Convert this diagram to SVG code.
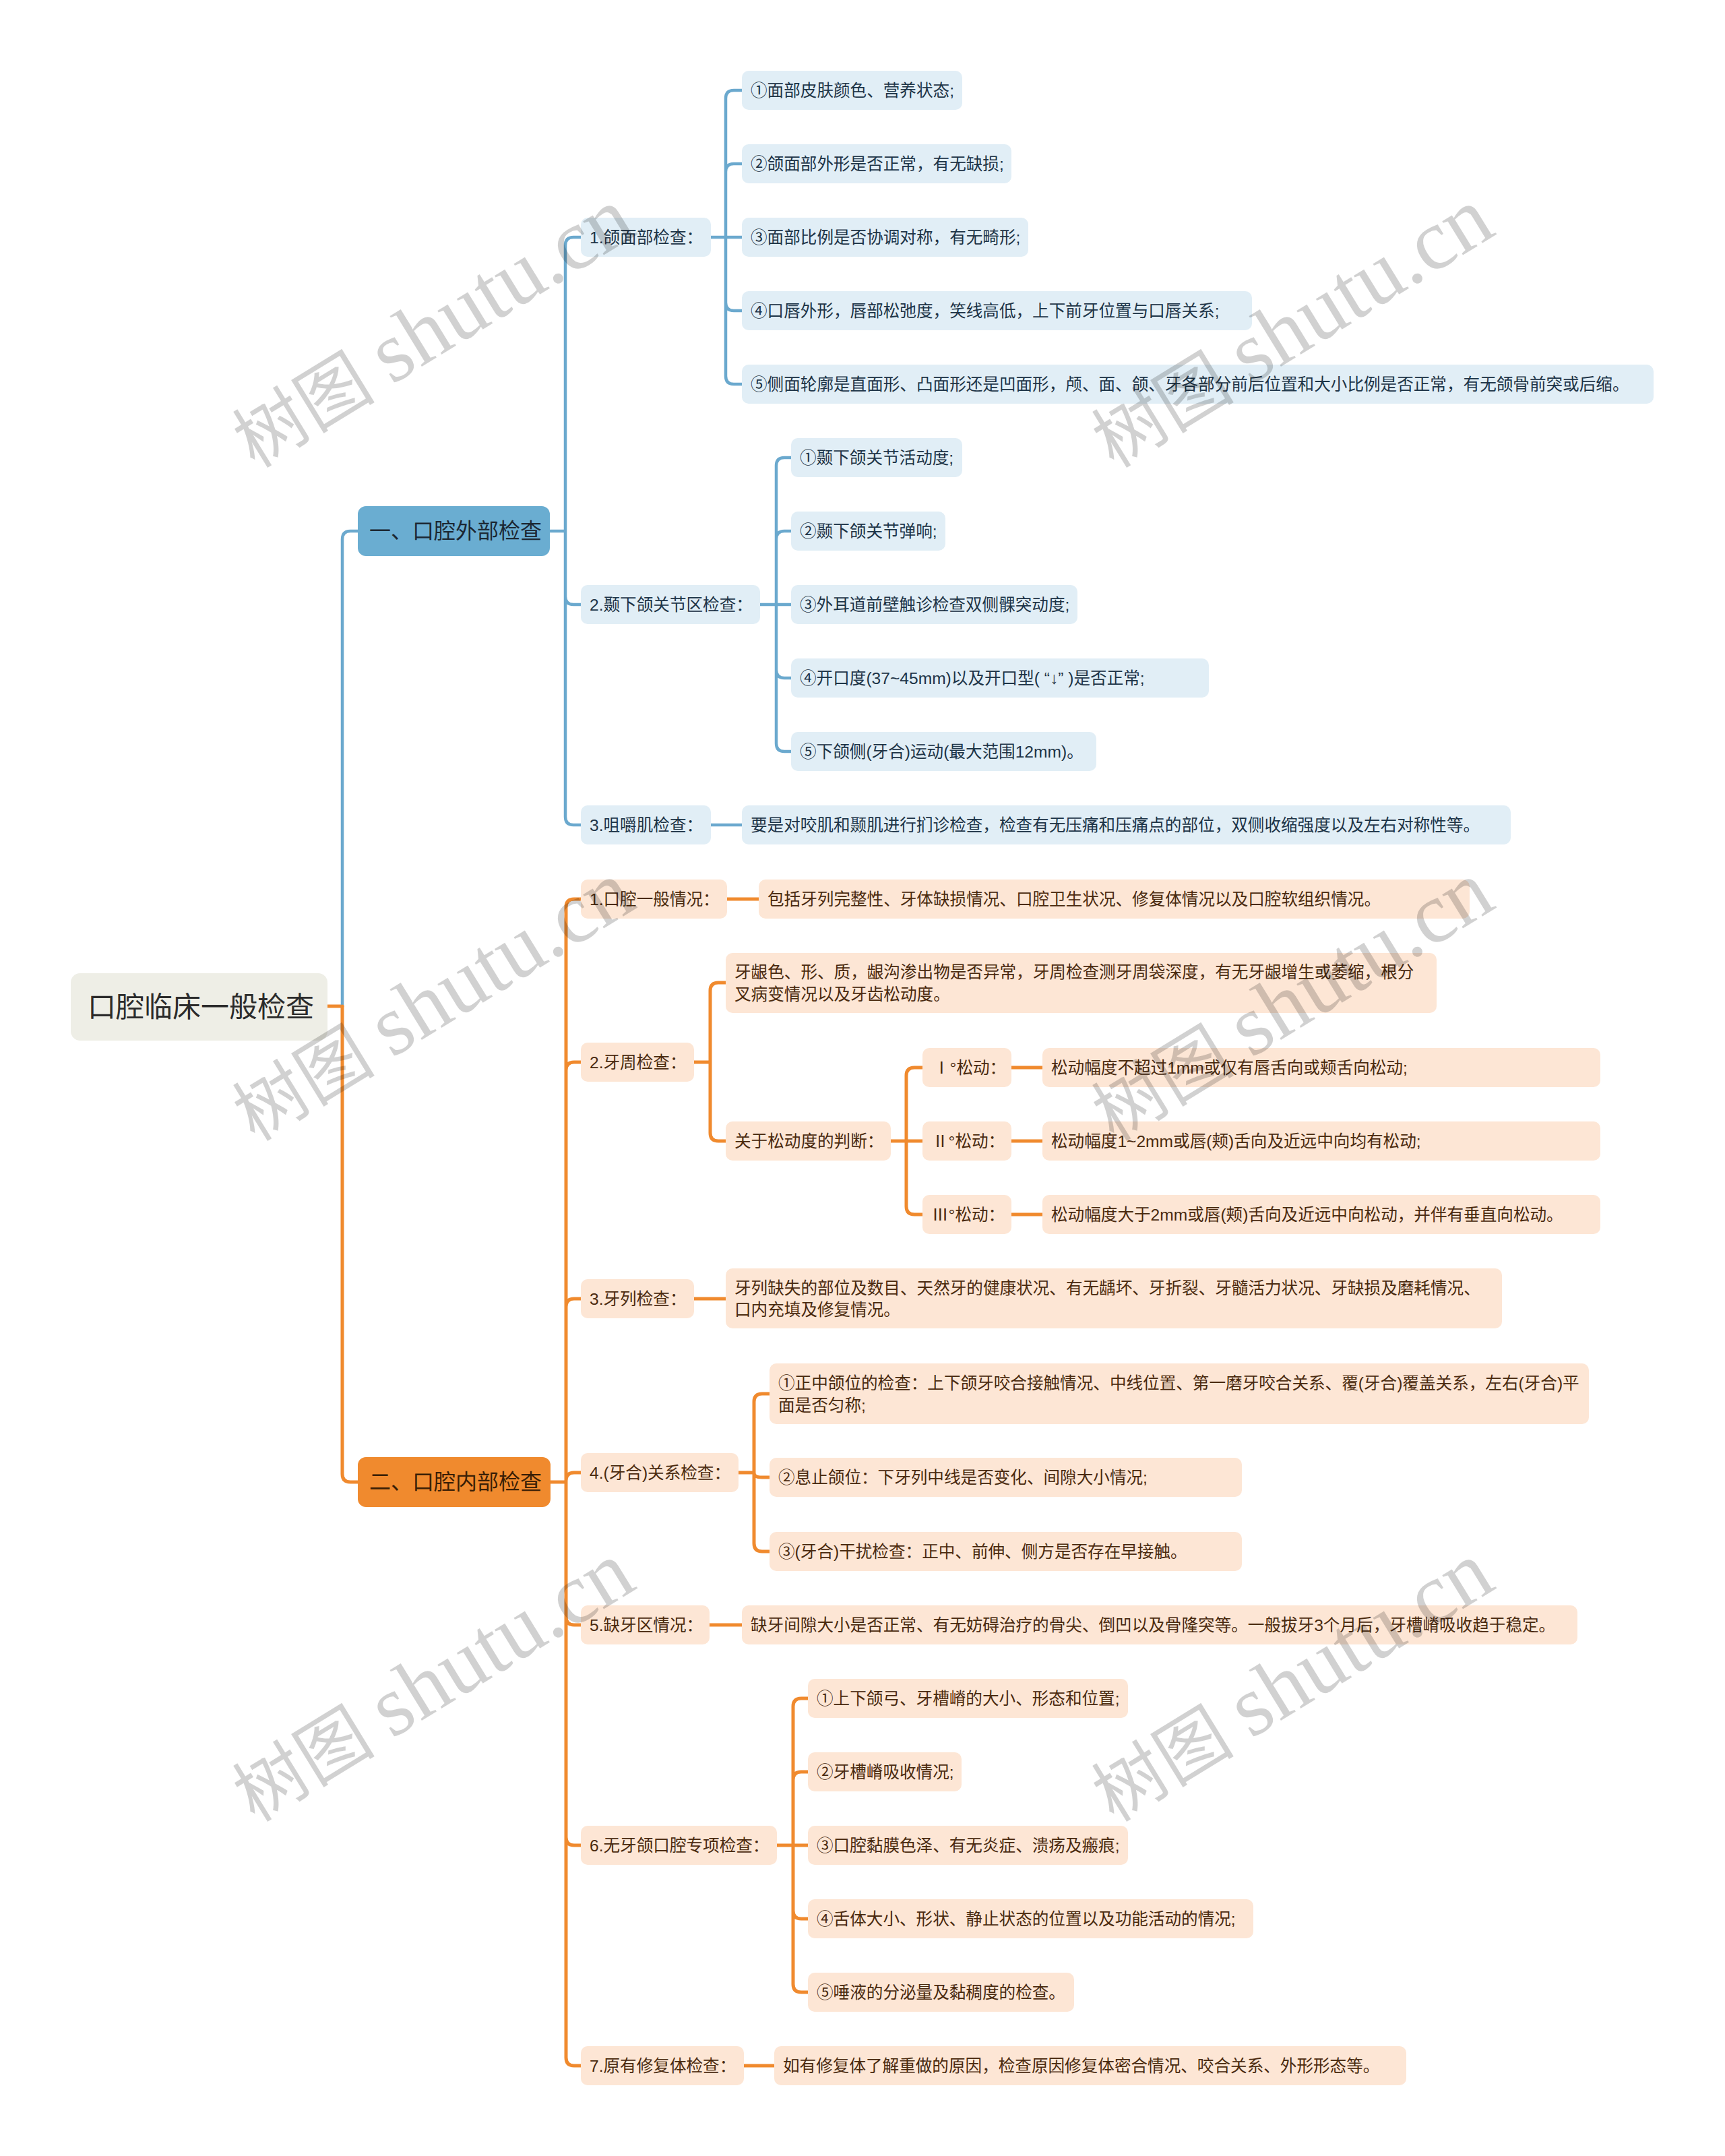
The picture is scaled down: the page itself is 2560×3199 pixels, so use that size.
<svg xmlns="http://www.w3.org/2000/svg" width="2560" height="3199" viewBox="0 0 2560 3199">
<style>
text{font-family:"Liberation Sans","Noto Sans CJK SC",sans-serif;dominant-baseline:central}
.t{font-size:24.6px}
.bl{fill:#E1EEF6}
.bt{fill:#1d3447}
.ol{fill:#FDE6D5}
.ot{fill:#4a2a0f}
.cb{fill:none;stroke:#6BA9CE;stroke-width:4.5;stroke-linecap:round}
.co{fill:none;stroke:#F08A2E;stroke-width:5;stroke-linecap:round}
.wm{font-family:"Liberation Serif","Noto Sans CJK SC",serif;fill:#000;fill-opacity:0.18;dominant-baseline:auto}
</style>
<rect width="2560" height="3199" fill="#FFFFFF"/>
<g id="connectors">
<path class="co" d="M486 1493 H508"/>
<path class="cb" d="M508 1493 V800 Q508 788 520 788 H531"/>
<path class="co" d="M508 1493 V2187 Q508 2199 520 2199 H531"/>
<path class="cb" d="M816 788 H839 M839 788 V364 Q839 352 851 352 H862 M839 788 V885 Q839 897 851 897 H862 M839 788 V1212 Q839 1224 851 1224 H862"/>
<path class="cb" d="M1055 352 H1077 M1077 352 V146 Q1077 134 1089 134 H1101 M1077 352 V255 Q1077 243 1089 243 H1101 M1077 352 H1101 M1077 352 V449 Q1077 461 1089 461 H1101 M1077 352 V558 Q1077 570 1089 570 H1101"/>
<path class="cb" d="M1128 897 H1152 M1152 897 V691 Q1152 679 1164 679 H1174 M1152 897 V800 Q1152 788 1164 788 H1174 M1152 897 H1174 M1152 897 V994 Q1152 1006 1164 1006 H1174 M1152 897 V1103 Q1152 1115 1164 1115 H1174"/>
<path class="cb" d="M1055 1224 H1101"/>
<path class="co" d="M817 2199 H840 M840 2199 V1346 Q840 1334 852 1334 H862 M840 2199 V1588 Q840 1576 852 1576 H862 M840 2199 V1939 Q840 1927 852 1927 H862 M840 2199 V2197 Q840 2185 852 2185 H862 M840 2199 V2399 Q840 2411 852 2411 H862 M840 2199 V2726 Q840 2738 852 2738 H862 M840 2199 V3053 Q840 3065 852 3065 H862"/>
<path class="co" d="M1079 1334 H1126"/>
<path class="co" d="M1030 1576 H1054 M1054 1576 V1470 Q1054 1458 1066 1458 H1077 M1054 1576 V1681 Q1054 1693 1066 1693 H1077"/>
<path class="co" d="M1322 1693 H1345 M1345 1693 V1596 Q1345 1584 1357 1584 H1369 M1345 1693 H1369 M1345 1693 V1790 Q1345 1802 1357 1802 H1369"/>
<path class="co" d="M1501 1584 H1547 M1501 1693 H1547 M1501 1802 H1547"/>
<path class="co" d="M1030 1927 H1077"/>
<path class="co" d="M1096 2185 H1119 M1119 2185 V2080 Q1119 2068 1131 2068 H1142 M1119 2185 C1119 2190 1122 2192 1131 2192 H1142 M1119 2185 V2290 Q1119 2302 1131 2302 H1142"/>
<path class="co" d="M1053 2411 H1101"/>
<path class="co" d="M1153 2738 H1177 M1177 2738 V2532 Q1177 2520 1189 2520 H1199 M1177 2738 V2641 Q1177 2629 1189 2629 H1199 M1177 2738 H1199 M1177 2738 V2835 Q1177 2847 1189 2847 H1199 M1177 2738 V2944 Q1177 2956 1189 2956 H1199"/>
<path class="co" d="M1104 3065 H1149"/>
</g>
<g id="root"><rect x="105" y="1444" width="381" height="100" rx="14" fill="#EEEEE6"/><text x="130" y="1494" font-size="42" fill="#2b2b2b">口腔临床一般检查</text></g>
<g id="n-outer"><rect x="531" y="751" width="285" height="74" rx="12" fill="#6AADD1"/><text x="548" y="788" font-size="32" fill="#1c2833">一、口腔外部检查</text></g>
<g id="n-inner"><rect x="531" y="2162" width="286" height="74" rx="12" fill="#F08A2E"/><text x="548" y="2199" font-size="32" fill="#3a1f06">二、口腔内部检查</text></g>

<g id="b1"><rect class="bl" x="862" y="323" width="193" height="58" rx="10"/><text class="t bt" x="875" y="352">1.颌面部检查：</text></g>
<g id="b11"><rect class="bl" x="1101" y="105" width="327" height="58" rx="10"/><text class="t bt" x="1114" y="134">①面部皮肤颜色、营养状态;</text></g>
<g id="b12"><rect class="bl" x="1101" y="214" width="400" height="58" rx="10"/><text class="t bt" x="1114" y="243">②颌面部外形是否正常，有无缺损;</text></g>
<g id="b13"><rect class="bl" x="1101" y="323" width="425" height="58" rx="10"/><text class="t bt" x="1114" y="352">③面部比例是否协调对称，有无畸形;</text></g>
<g id="b14"><rect class="bl" x="1101" y="432" width="757" height="58" rx="10"/><text class="t bt" x="1114" y="461">④口唇外形，唇部松弛度，笑线高低，上下前牙位置与口唇关系;</text></g>
<g id="b15"><rect class="bl" x="1101" y="541" width="1353" height="58" rx="10"/><text class="t bt" x="1114" y="570">⑤侧面轮廓是直面形、凸面形还是凹面形，颅、面、颌、牙各部分前后位置和大小比例是否正常，有无颌骨前突或后缩。</text></g>

<g id="b2"><rect class="bl" x="862" y="868" width="266" height="58" rx="10"/><text class="t bt" x="875" y="897">2.颞下颌关节区检查：</text></g>
<g id="b21"><rect class="bl" x="1174" y="650" width="254" height="58" rx="10"/><text class="t bt" x="1187" y="679">①颞下颌关节活动度;</text></g>
<g id="b22"><rect class="bl" x="1174" y="759" width="229" height="58" rx="10"/><text class="t bt" x="1187" y="788">②颞下颌关节弹响;</text></g>
<g id="b23"><rect class="bl" x="1174" y="868" width="425" height="58" rx="10"/><text class="t bt" x="1187" y="897">③外耳道前壁触诊检查双侧髁突动度;</text></g>
<g id="b24"><rect class="bl" x="1174" y="977" width="620" height="58" rx="10"/><text class="t bt" x="1187" y="1006">④开口度(37~45mm)以及开口型( “↓” )是否正常;</text></g>
<g id="b25"><rect class="bl" x="1174" y="1086" width="453" height="58" rx="10"/><text class="t bt" x="1187" y="1115">⑤下颌侧(牙合)运动(最大范围12mm)。</text></g>

<g id="b3"><rect class="bl" x="862" y="1195" width="193" height="58" rx="10"/><text class="t bt" x="875" y="1224">3.咀嚼肌检查：</text></g>
<g id="b31"><rect class="bl" x="1101" y="1195" width="1141" height="58" rx="10"/><text class="t bt" x="1114" y="1224">要是对咬肌和颞肌进行扪诊检查，检查有无压痛和压痛点的部位，双侧收缩强度以及左右对称性等。</text></g>

<g id="o1"><rect class="ol" x="862" y="1305" width="217" height="58" rx="10"/><text class="t ot" x="875" y="1334">1.口腔一般情况：</text></g>
<g id="o11"><rect class="ol" x="1126" y="1305" width="1055" height="58" rx="10"/><text class="t ot" x="1139" y="1334">包括牙列完整性、牙体缺损情况、口腔卫生状况、修复体情况以及口腔软组织情况。</text></g>

<g id="o2"><rect class="ol" x="862" y="1547" width="168" height="58" rx="10"/><text class="t ot" x="875" y="1576">2.牙周检查：</text></g>
<g id="o21"><rect class="ol" x="1077" y="1414" width="1055" height="89" rx="10"/><text class="t ot" x="1090" y="1442">牙龈色、形、质，龈沟渗出物是否异常，牙周检查测牙周袋深度，有无牙龈增生或萎缩，根分</text><text class="t ot" x="1090" y="1475">叉病变情况以及牙齿松动度。</text></g>
<g id="o22"><rect class="ol" x="1077" y="1664" width="245" height="58" rx="10"/><text class="t ot" x="1090" y="1693">关于松动度的判断：</text></g>
<g id="o221"><rect class="ol" x="1369" y="1555" width="132" height="58" rx="10"/><text class="t ot" x="1385" y="1584">Ⅰ°松动：</text></g>
<g id="o221d"><rect class="ol" x="1547" y="1555" width="828" height="58" rx="10"/><text class="t ot" x="1560" y="1584">松动幅度不超过1mm或仅有唇舌向或颊舌向松动;</text></g>
<g id="o222"><rect class="ol" x="1369" y="1664" width="132" height="58" rx="10"/><text class="t ot" x="1383" y="1693">Ⅱ°松动：</text></g>
<g id="o222d"><rect class="ol" x="1547" y="1664" width="828" height="58" rx="10"/><text class="t ot" x="1560" y="1693">松动幅度1~2mm或唇(颊)舌向及近远中向均有松动;</text></g>
<g id="o223"><rect class="ol" x="1369" y="1773" width="132" height="58" rx="10"/><text class="t ot" x="1383" y="1802">Ⅲ°松动：</text></g>
<g id="o223d"><rect class="ol" x="1547" y="1773" width="828" height="58" rx="10"/><text class="t ot" x="1560" y="1802">松动幅度大于2mm或唇(颊)舌向及近远中向松动，并伴有垂直向松动。</text></g>

<g id="o3"><rect class="ol" x="862" y="1898" width="168" height="58" rx="10"/><text class="t ot" x="875" y="1927">3.牙列检查：</text></g>
<g id="o31"><rect class="ol" x="1077" y="1882" width="1152" height="89" rx="10"/><text class="t ot" x="1090" y="1911">牙列缺失的部位及数目、天然牙的健康状况、有无龋坏、牙折裂、牙髓活力状况、牙缺损及磨耗情况、</text><text class="t ot" x="1090" y="1943">口内充填及修复情况。</text></g>

<g id="o4"><rect class="ol" x="862" y="2156" width="234" height="58" rx="10"/><text class="t ot" x="875" y="2185">4.(牙合)关系检查：</text></g>
<g id="o41"><rect class="ol" x="1142" y="2023" width="1216" height="90" rx="10"/><text class="t ot" x="1155" y="2052">①正中颌位的检查：上下颌牙咬合接触情况、中线位置、第一磨牙咬合关系、覆(牙合)覆盖关系，左右(牙合)平</text><text class="t ot" x="1155" y="2085">面是否匀称;</text></g>
<g id="o42"><rect class="ol" x="1142" y="2163" width="701" height="58" rx="10"/><text class="t ot" x="1155" y="2192">②息止颌位：下牙列中线是否变化、间隙大小情况;</text></g>
<g id="o43"><rect class="ol" x="1142" y="2273" width="701" height="58" rx="10"/><text class="t ot" x="1155" y="2302">③(牙合)干扰检查：正中、前伸、侧方是否存在早接触。</text></g>

<g id="o5"><rect class="ol" x="862" y="2382" width="191" height="58" rx="10"/><text class="t ot" x="875" y="2411">5.缺牙区情况：</text></g>
<g id="o51"><rect class="ol" x="1101" y="2382" width="1240" height="58" rx="10"/><text class="t ot" x="1114" y="2411">缺牙间隙大小是否正常、有无妨碍治疗的骨尖、倒凹以及骨隆突等。一般拔牙3个月后，牙槽嵴吸收趋于稳定。</text></g>

<g id="o6"><rect class="ol" x="862" y="2709" width="291" height="58" rx="10"/><text class="t ot" x="875" y="2738">6.无牙颌口腔专项检查：</text></g>
<g id="o61"><rect class="ol" x="1199" y="2491" width="475" height="58" rx="10"/><text class="t ot" x="1212" y="2520">①上下颌弓、牙槽嵴的大小、形态和位置;</text></g>
<g id="o62"><rect class="ol" x="1199" y="2600" width="228" height="58" rx="10"/><text class="t ot" x="1212" y="2629">②牙槽嵴吸收情况;</text></g>
<g id="o63"><rect class="ol" x="1199" y="2709" width="475" height="58" rx="10"/><text class="t ot" x="1212" y="2738">③口腔黏膜色泽、有无炎症、溃疡及瘢痕;</text></g>
<g id="o64"><rect class="ol" x="1199" y="2818" width="661" height="58" rx="10"/><text class="t ot" x="1212" y="2847">④舌体大小、形状、静止状态的位置以及功能活动的情况;</text></g>
<g id="o65"><rect class="ol" x="1199" y="2927" width="395" height="58" rx="10"/><text class="t ot" x="1212" y="2956">⑤唾液的分泌量及黏稠度的检查。</text></g>

<g id="o7"><rect class="ol" x="862" y="3036" width="242" height="58" rx="10"/><text class="t ot" x="875" y="3065">7.原有修复体检查：</text></g>
<g id="o71"><rect class="ol" x="1149" y="3036" width="938" height="58" rx="10"/><text class="t ot" x="1162" y="3065">如有修复体了解重做的原因，检查原因修复体密合情况、咬合关系、外形形态等。</text></g>

<g id="watermarks">
<text class="wm" font-size="106" transform="translate(378 696) rotate(-31.5)">树图 <tspan font-size="128">shutu.cn</tspan></text>
<text class="wm" font-size="106" transform="translate(1653 696) rotate(-31.5)">树图 <tspan font-size="128">shutu.cn</tspan></text>
<text class="wm" font-size="106" transform="translate(378 1695) rotate(-31.5)">树图 <tspan font-size="128">shutu.cn</tspan></text>
<text class="wm" font-size="106" transform="translate(1653 1695) rotate(-31.5)">树图 <tspan font-size="128">shutu.cn</tspan></text>
<text class="wm" font-size="106" transform="translate(378 2705) rotate(-31.5)">树图 <tspan font-size="128">shutu.cn</tspan></text>
<text class="wm" font-size="106" transform="translate(1653 2705) rotate(-31.5)">树图 <tspan font-size="128">shutu.cn</tspan></text>
</g>
</svg>
